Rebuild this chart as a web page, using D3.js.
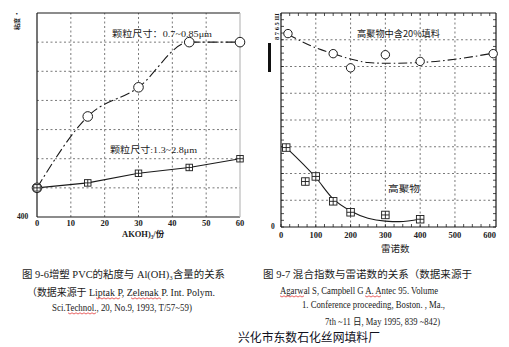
<!DOCTYPE html>
<html>
<head>
<meta charset="utf-8">
<script src="https://cdn.jsdelivr.net/npm/d3@7"></script>
<style>
  html, body { margin: 0; padding: 0; background: #fff; }
  svg { display: block; }
</style>
</head>
<body>
<div id="chart"></div>
<script>
////////////////////////////////////////////////////////////////
// Data

// fig 9-6: viscosity vs Al(OH)3 content
const aohParts = [0, 15, 30, 45, 60];
const viscFine = [600, 1090, 1290, 1600, 1600];   // 0.7~0.85um, circles
const viscCoarse = [600, 634, 700, 740, 800];     // 1.3~2.8um, squares
const aohTicks = [0, 10, 20, 30, 40, 50, 60];
const viscGrid = [600, 800, 1000, 1200, 1400, 1600];

// fig 9-7: mixing index vs Reynolds number
const reFilled = [20, 150, 200, 300, 400, 610];
const mixFilled = [7.23, 6.48, 5.95, 6.44, 6.19, 6.48];
const rePure = [15, 70, 100, 150, 200, 300, 400];
const mixPure = [2.97, 1.70, 1.89, 0.96, 0.55, 0.45, 0.29];
// fitted curves drawn through the points
const fitFilledRe = [20, 100, 150, 200, 250, 300, 400, 500, 610];
const fitFilledMix = [7.2, 6.7, 6.48, 6.28, 6.15, 6.12, 6.15, 6.27, 6.5];
const fitPureRe = [15, 100, 150, 200, 250, 300, 340, 400];
const fitPureMix = [2.97, 1.85, 1.05, 0.6, 0.33, 0.22, 0.2, 0.3];
const reTicks = [0, 100, 200, 300, 400, 500, 600];
const mixGrid = [1, 2, 3, 4, 5, 6, 7];

const captionLeft = [
  "图 9-6增塑 PVC的粘度与 Al(OH)\u2083含量的关系",
  "（数据来源于  Liptak P, Zelenak P. Int. Polym.",
  "Sci.Technol., 20, No.9, 1993, T/57~59)"
];
const captionRight = [
  "图 9-7 混合指数与雷诺数的关系（数据来源于",
  "Agarwal S, Campbell G A. Antec 95. Volume",
  "1. Conference proceeding, Boston. , Ma.,",
  "7th ~11 日, May 1995, 839 ~842)"
];
const watermark = "兴化市东数石化丝网填料厂";

////////////////////////////////////////////////////////////////
// Constants
const width = 509, height = 347;
const serif = "'Liberation Serif', 'Noto Sans CJK SC', serif";
const cjk = "'Noto Sans CJK SC', sans-serif";
const gridDash = "2,2.5";

const xL = d3.scaleLinear([0, 60], [37, 240]);
const yL = d3.scaleLinear([400, 1800], [217, 13]);
const xR = d3.scaleLinear([0, 618], [281, 496]);
const yR = d3.scaleLinear([0, 8], [227, 13]);

const svg = d3.select("#chart").append("svg")
  .attr("width", width)
  .attr("height", height)
  .attr("viewBox", [0, 0, width, height]);

////////////////////////////////////////////////////////////////
// Drawing helpers

const drawGrid = (x, y, xs, ys) => {
  const g = svg.append("g")
    .attr("stroke", "#555")
    .attr("stroke-width", 0.8)
    .attr("stroke-dasharray", gridDash)
    .attr("fill", "none");
  g.selectAll(".v").data(xs).join("line")
    .attr("x1", d => x(d)).attr("x2", d => x(d))
    .attr("y1", y.range()[0]).attr("y2", y.range()[1]);
  g.selectAll(".h").data(ys).join("line")
    .attr("x1", x.range()[0]).attr("x2", x.range()[1])
    .attr("y1", d => y(d)).attr("y2", d => y(d));
}

const drawFrame = (x, y, rightColor) => {
  const [x0, x1] = x.range(), [y0, y1] = y.range();
  const g = svg.append("g").attr("stroke", "#1a1a1a").attr("stroke-width", 1.2);
  g.append("line").attr("x1", x0).attr("x2", x0).attr("y1", y0).attr("y2", y1);
  g.append("line").attr("x1", x0).attr("x2", x1).attr("y1", y0).attr("y2", y0);
  g.append("line").attr("x1", x0).attr("x2", x1).attr("y1", y1).attr("y2", y1);
  g.append("line").attr("x1", x1).attr("x2", x1).attr("y1", y0).attr("y2", y1)
    .attr("stroke", rightColor);
}

const drawMinorTicks = (x, y, xStep, yStep) => {
  const [x0, x1] = x.range(), [y0, y1] = y.range();
  const g = svg.append("g").attr("stroke", "#222").attr("stroke-width", 0.8);
  const xt = d3.range(0, x.domain()[1], xStep);
  const yt = d3.range(0, y.domain()[1], yStep);
  g.selectAll(".b").data(xt).join("line")
    .attr("x1", d => x(d)).attr("x2", d => x(d)).attr("y1", y0).attr("y2", y0 - 3);
  g.selectAll(".t").data(xt).join("line")
    .attr("x1", d => x(d)).attr("x2", d => x(d)).attr("y1", y1).attr("y2", y1 + 3);
  g.selectAll(".l").data(yt).join("line")
    .attr("x1", x0).attr("x2", x0 + 3).attr("y1", d => y(d)).attr("y2", d => y(d));
  g.selectAll(".r").data(yt).join("line")
    .attr("x1", x1).attr("x2", x1 - 3).attr("y1", d => y(d)).attr("y2", d => y(d));
}

const drawTickLabels = (x, y, ticks, labelY) => {
  svg.append("g")
    .style("font", `bold 8.5px ${serif}`)
    .attr("text-anchor", "middle")
    .attr("fill", "#222")
    .selectAll("text").data(ticks).join("text")
    .attr("x", d => x(d))
    .attr("y", labelY)
    .text(d => d);
}

const drawLine = (x, y, xs, ys, dash, curve) => {
  const line = d3.line().x(d => x(d[0])).y(d => y(d[1])).curve(curve);
  svg.append("path")
    .datum(d3.zip(xs, ys))
    .attr("fill", "none")
    .attr("stroke", "#1a1a1a")
    .attr("stroke-width", 1.1)
    .attr("stroke-dasharray", dash)
    .attr("d", line);
}

const drawCircles = (x, y, xs, ys, r) => {
  svg.append("g")
    .attr("fill", "#fff").attr("stroke", "#1a1a1a").attr("stroke-width", 1)
    .selectAll("circle").data(d3.zip(xs, ys)).join("circle")
    .attr("cx", d => x(d[0])).attr("cy", d => y(d[1])).attr("r", r);
}

const drawSquares = (x, y, xs, ys, s) => {
  const g = svg.append("g")
    .attr("stroke", "#1a1a1a").attr("stroke-width", 0.9)
    .selectAll("g").data(d3.zip(xs, ys)).join("g")
    .attr("transform", d => `translate(${x(d[0])},${y(d[1])})`);
  g.append("rect").attr("x", -s / 2).attr("y", -s / 2)
    .attr("width", s).attr("height", s).attr("fill", "#fff");
  g.append("path").attr("d", `M${-s / 2},0H${s / 2}M0,${-s / 2}V${s / 2}`);
}

const drawText = (txt, x, y, size, family, opts = {}) => {
  const t = svg.append("text")
    .attr("x", x).attr("y", y)
    .style("font-size", `${size}px`)
    .style("font-family", family)
    .attr("fill", opts.fill || "#1a1a1a")
    .text(txt);
  if (opts.len) t.attr("textLength", opts.len).attr("lengthAdjust", "spacingAndGlyphs");
  if (opts.weight) t.style("font-weight", opts.weight);
  if (opts.rotate) t.attr("transform", `rotate(${opts.rotate},${x},${y})`);
  return t;
}

// red spell-check squiggle under a run of caption text
const squiggle = (x0, x1, y) => {
  const pts = d3.range(x0, x1, 2).map((px, i) => [px, y + (i % 2 ? 1 : -0.2)]);
  svg.append("path")
    .attr("d", d3.line()(pts))
    .attr("fill", "none").attr("stroke", "#e02020").attr("stroke-width", 0.7);
}

////////////////////////////////////////////////////////////////
// Main

// --- left chart
drawGrid(xL, yL, aohTicks.slice(1, -1), viscGrid);
drawFrame(xL, yL, "#bbb");
drawTickLabels(xL, yL, aohTicks, 226);
drawText("400", 17, 219, 7.5, serif, { weight: "bold" });
drawText("粘度 ·", 19, 30, 6, cjk, { rotate: -90, weight: "bold" });
drawText("AKOH)\u2083/份", 122, 237, 8.5, serif, { weight: "bold" });

drawLine(xL, yL, aohParts, viscFine, "10,3,2,3", d3.curveMonotoneX);
drawLine(xL, yL, aohParts, viscCoarse, null, d3.curveLinear);
drawCircles(xL, yL, aohParts, viscFine, 4.8);
drawSquares(xL, yL, aohParts, viscCoarse, 6.5);

drawText("颗粒尺寸：0.7~0.85μm", 112, 37, 9, serif, { len: 100 });
drawText("颗粒尺寸:1.3~2.8μm", 110, 153, 9, serif, { len: 87 });

// --- right chart
drawGrid(xR, yR, reTicks.slice(1, -1), mixGrid);
drawMinorTicks(xR, yR, 25, 0.25);
drawFrame(xR, yR, "#1a1a1a");
drawTickLabels(xR, yR, reTicks, 238);
drawText("0", 271, 229, 7.5, serif, { weight: "bold" });
svg.append("rect").attr("x", 268).attr("y", 43).attr("width", 3).attr("height", 29).attr("fill", "#111");
drawText("8 7 6 5 Ш", 279, 40, 6.5, serif, { rotate: -90, weight: "bold" });
drawText("雷诺数", 381, 252, 9.5, cjk);

drawLine(xR, yR, fitFilledRe, fitFilledMix, "9,3,1.5,3", d3.curveMonotoneX);
drawLine(xR, yR, fitPureRe, fitPureMix, null, d3.curveMonotoneX);
drawCircles(xR, yR, reFilled, mixFilled, 4.2);
drawSquares(xR, yR, rePure, mixPure, 7.5);

drawText("高聚物中含20%填料", 357, 37, 9.5, cjk, { len: 83 });
drawText("高聚物", 388, 192, 9.5, cjk, { len: 32 });

// --- captions
const leftLines = [[22, 278, 203], [27, 296, 188], [52, 311, 140]];
captionLeft.forEach((s, i) => drawText(s, leftLines[i][0], leftLines[i][1], 10, serif, { len: leftLines[i][2] }));
squiggle(96, 122, 298);
squiggle(131, 163, 298);
squiggle(68, 97, 313);

const rightLines = [[263, 278, 209], [280, 294, 158], [302, 308, 143], [325, 325, 115]];
captionRight.forEach((s, i) => drawText(s, rightLines[i][0], rightLines[i][1], i === 3 ? 9.5 : 10, serif, { len: rightLines[i][2] }));
squiggle(280, 305, 296);
squiggle(365, 383, 296);

drawText(watermark, 238, 342, 12, cjk, { len: 142, fill: "#10101c" });
</script>
</body>
</html>
